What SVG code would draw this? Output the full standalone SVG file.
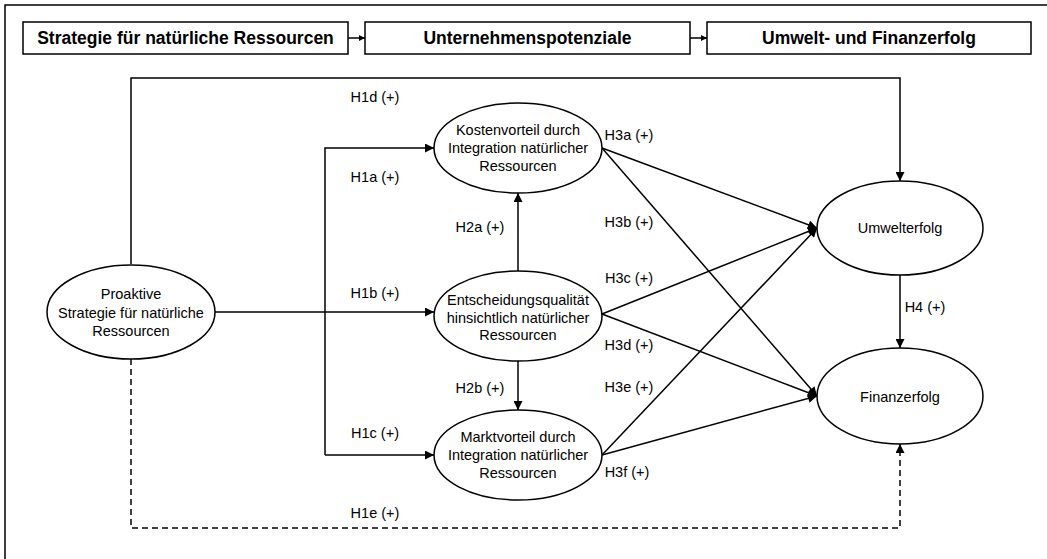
<svg xmlns="http://www.w3.org/2000/svg" width="1047" height="559" viewBox="0 0 1047 559">
<style>
.t{font-family:"Liberation Sans",Arial,sans-serif;font-size:14.5px;fill:#000;text-anchor:middle}
.h{font-family:"Liberation Sans",Arial,sans-serif;font-size:17.5px;font-weight:bold;fill:#000;text-anchor:middle}
.box{fill:#fff;stroke:#000;stroke-width:1.5}
.el{fill:#fff;stroke:#000;stroke-width:1.5}
.c{fill:none;stroke:#000;stroke-width:1.5}
.d{fill:none;stroke:#000;stroke-width:1.5;stroke-dasharray:6 4}
</style>
<defs>
<marker id="a" viewBox="0 0 10 10" refX="10" refY="5" markerWidth="10" markerHeight="9" markerUnits="userSpaceOnUse" orient="auto">
<path d="M0,0 L10,5 L0,10 z" fill="#000"/>
</marker>
<marker id="s" viewBox="0 0 10 10" refX="10" refY="5" markerWidth="7" markerHeight="6" markerUnits="userSpaceOnUse" orient="auto">
<path d="M0,0 L10,5 L0,10 z" fill="#000"/>
</marker>
</defs>
<rect width="1047" height="559" fill="#fff"/>
<path d="M5,559 V5 H1047" class="c"/>

<g id="header1"><rect class="box" x="23" y="22" width="325" height="32"/><text class="h" x="185.5" y="44">Strategie für natürliche Ressourcen</text></g>
<g id="header2"><rect class="box" x="365" y="22" width="325" height="32"/><text class="h" x="527.5" y="44">Unternehmenspotenziale</text></g>
<g id="header3"><rect class="box" x="707" y="22" width="324" height="32"/><text class="h" x="869" y="44">Umwelt- und Finanzerfolg</text></g>

<g id="connectors">
<path class="c" d="M348,38 H365" marker-end="url(#s)"/>
<path class="c" d="M690,38 H707" marker-end="url(#s)"/>
<path class="c" d="M131,264 V78 H900 V181" marker-end="url(#a)"/>
<path class="c" d="M215,312 H434" marker-end="url(#a)"/>
<path class="c" d="M325,455 V148 H434" marker-end="url(#a)"/>
<path class="c" d="M325,455 H434" marker-end="url(#a)"/>
<path class="c" d="M518,271 V193" marker-end="url(#a)"/>
<path class="c" d="M518,361 V410" marker-end="url(#a)"/>
<path class="c" d="M602,148 L817,228" marker-end="url(#a)"/>
<path class="c" d="M602,148 L817,396" marker-end="url(#a)"/>
<path class="c" d="M602,314 L817,228" marker-end="url(#a)"/>
<path class="c" d="M602,314 L817,396" marker-end="url(#a)"/>
<path class="c" d="M602,455 L817,228" marker-end="url(#a)"/>
<path class="c" d="M602,455 L817,396" marker-end="url(#a)"/>
<path class="c" d="M900,275 V348" marker-end="url(#a)"/>
<path class="d" d="M131,359 V528 H900 V444" marker-end="url(#a)"/>
<text class="t" x="375" y="102">H1d (+)</text>
<text class="t" x="375" y="182">H1a (+)</text>
<text class="t" x="375" y="298">H1b (+)</text>
<text class="t" x="375" y="438">H1c (+)</text>
<text class="t" x="375" y="518">H1e (+)</text>
<text class="t" x="480" y="232">H2a (+)</text>
<text class="t" x="480" y="393">H2b (+)</text>
<text class="t" x="629" y="140">H3a (+)</text>
<text class="t" x="629" y="227">H3b (+)</text>
<text class="t" x="629" y="283">H3c (+)</text>
<text class="t" x="629" y="350">H3d (+)</text>
<text class="t" x="629" y="392">H3e (+)</text>
<text class="t" x="627" y="477">H3f (+)</text>
<text class="t" x="925" y="312">H4 (+)</text>
</g>

<g id="proaktive"><ellipse class="el" cx="131" cy="312" rx="84" ry="47"/>
<text class="t" x="131" y="299">Proaktive</text><text class="t" x="131" y="318">Strategie für natürliche</text><text class="t" x="131" y="336">Ressourcen</text></g>
<g id="kosten"><ellipse class="el" cx="518" cy="148" rx="84" ry="45"/>
<text class="t" x="518" y="135">Kostenvorteil durch</text><text class="t" x="518" y="153">Integration natürlicher</text><text class="t" x="518" y="171">Ressourcen</text></g>
<g id="entscheidung"><ellipse class="el" cx="518" cy="316" rx="84" ry="45"/>
<text class="t" x="518" y="305">Entscheidungsqualität</text><text class="t" x="518" y="323">hinsichtlich natürlicher</text><text class="t" x="518" y="340">Ressourcen</text></g>
<g id="markt"><ellipse class="el" cx="518" cy="455" rx="84" ry="45"/>
<text class="t" x="518" y="442">Marktvorteil durch</text><text class="t" x="518" y="460">Integration natürlicher</text><text class="t" x="518" y="478">Ressourcen</text></g>
<g id="umwelterfolg"><ellipse class="el" cx="900" cy="228" rx="83" ry="47"/>
<text class="t" x="900" y="233">Umwelterfolg</text></g>
<g id="finanzerfolg"><ellipse class="el" cx="900" cy="396" rx="83" ry="48"/>
<text class="t" x="900" y="402">Finanzerfolg</text></g>
</svg>
